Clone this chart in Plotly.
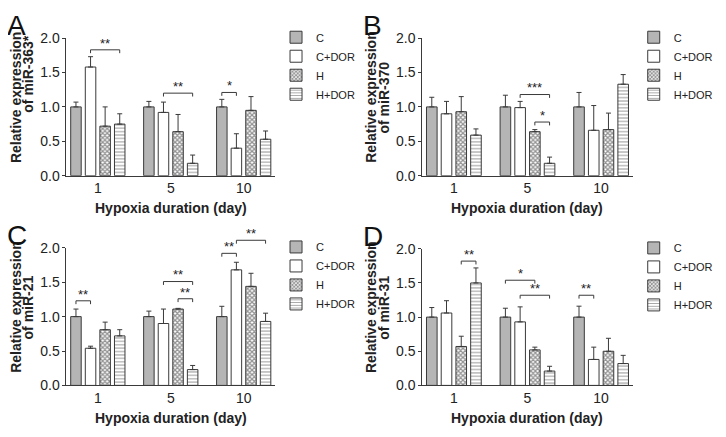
import plotly.graph_objects as go

OFF = 8                          # default page margin around the plot div
W, H = 726 - 2 * OFF, 437 - 2 * OFF  # page (figure + margins) exactly fills the window

categories = ["1", "5", "10"]
series = ["C", "C+DOR", "H", "H+DOR"]
panel_letters = ["A", "B", "C", "D"]
mirna_labels = ["of miR-363*", "of miR-370", "of miR-21", "of miR-31"]
y_ticks = [0.0, 0.5, 1.0, 1.5, 2.0]

# mean values per panel, per series (days 1, 5, 10)
A_C = [1.00, 1.00, 1.00]
A_CDOR = [1.58, 0.92, 0.40]
A_H = [0.72, 0.64, 0.95]
A_HDOR = [0.75, 0.18, 0.53]
A_C_err = [0.07, 0.08, 0.11]
A_CDOR_err = [0.15, 0.15, 0.21]
A_H_err = [0.28, 0.25, 0.20]
A_HDOR_err = [0.15, 0.12, 0.12]

B_C = [1.00, 1.00, 1.00]
B_CDOR = [0.90, 0.99, 0.66]
B_H = [0.93, 0.64, 0.67]
B_HDOR = [0.59, 0.18, 1.33]
B_C_err = [0.14, 0.17, 0.21]
B_CDOR_err = [0.18, 0.09, 0.36]
B_H_err = [0.22, 0.03, 0.24]
B_HDOR_err = [0.09, 0.09, 0.14]

C_C = [1.00, 1.00, 1.00]
C_CDOR = [0.54, 0.90, 1.68]
C_H = [0.81, 1.11, 1.44]
C_HDOR = [0.72, 0.23, 0.93]
C_C_err = [0.11, 0.08, 0.15]
C_CDOR_err = [0.03, 0.21, 0.11]
C_H_err = [0.11, 0.01, 0.19]
C_HDOR_err = [0.09, 0.06, 0.12]

D_C = [1.00, 1.00, 1.00]
D_CDOR = [1.06, 0.93, 0.38]
D_H = [0.57, 0.52, 0.50]
D_HDOR = [1.50, 0.21, 0.32]
D_C_err = [0.14, 0.13, 0.16]
D_CDOR_err = [0.18, 0.22, 0.18]
D_H_err = [0.15, 0.04, 0.19]
D_HDOR_err = [0.22, 0.07, 0.12]

# significance brackets: (day index, bar i, bar j, height, label)
A_sig = [(0, 1, 3, 1.83, "**"), (1, 1, 3, 1.20, "**"), (2, 0, 1, 1.21, "*")]
B_sig = [(1, 1, 3, 1.18, "***"), (1, 2, 3, 0.78, "*")]
C_sig = [(0, 0, 1, 1.23, "**"), (1, 1, 3, 1.51, "**"), (1, 2, 3, 1.26, "**"),
         (2, 0, 1, 1.92, "**"), (2, 1, 3, 2.11, "**")]
D_sig = [(0, 2, 3, 1.82, "**"), (1, 0, 2, 1.54, "*"), (1, 1, 3, 1.32, "**"),
         (2, 0, 1, 1.32, "**")]

panels = [
    ([A_C, A_CDOR, A_H, A_HDOR], [A_C_err, A_CDOR_err, A_H_err, A_HDOR_err], A_sig),
    ([B_C, B_CDOR, B_H, B_HDOR], [B_C_err, B_CDOR_err, B_H_err, B_HDOR_err], B_sig),
    ([C_C, C_CDOR, C_H, C_HDOR], [C_C_err, C_CDOR_err, C_H_err, C_HDOR_err], C_sig),
    ([D_C, D_CDOR, D_H, D_HDOR], [D_C_err, D_CDOR_err, D_H_err, D_HDOR_err], D_sig),
]

# ---- layout (screen pixels) ----
plot_px = [(68, 282, 31, 174), (433, 649, 31, 174), (68, 282, 249, 392), (433, 649, 250, 392)]
FONT = "Liberation Sans, Arial, sans-serif"
EDGE = "#3a3a3a"
TXT = "#222222"
BARGAP = 0.2
XR = [-0.43, 2.43]
YR = [0.0, 2.0]

styles = [
    dict(color="#b5b5b5"),
    dict(color="white"),
    dict(color="white", pattern=dict(shape="x", fgcolor="#2a2a2a", bgcolor="white", size=3.2, solidity=0.65)),
    dict(color="white", pattern=dict(shape="-", fgcolor="#333333", bgcolor="white", size=3.4, solidity=0.3)),
]

fig = go.Figure()
layout = dict(width=W, height=H, margin=dict(l=0, r=0, t=0, b=0),
              paper_bgcolor="white", plot_bgcolor="white", barmode="group",
              bargap=BARGAP, bargroupgap=0.28, font=dict(family=FONT, color=TXT))
shapes, annotations = [], []


def px2x(p):
    return (p - OFF) / W


def px2y(p):
    return 1 - (p - OFF) / H


def note(xp, yp, text, size, angle=0, xanchor="center", yanchor="middle", color=TXT):
    return dict(x=px2x(xp), y=px2y(yp), xref="paper", yref="paper", text=text,
                showarrow=False, textangle=angle, xanchor=xanchor, yanchor=yanchor,
                font=dict(size=size, color=color, family=FONT))


for k, (means, errs, sig) in enumerate(panels):
    x0, x1, y0, y1 = plot_px[k]
    sfx = "" if k == 0 else str(k + 1)
    xa, ya = "x" + sfx, "y" + sfx
    leg = "legend" + sfx
    for s, name in enumerate(series):
        fig.add_trace(go.Bar(
            x=categories, y=means[s], name=name, xaxis=xa, yaxis=ya, legend=leg,
            marker=dict(line=dict(color=EDGE, width=1), **styles[s]),
            error_y=dict(type="data", symmetric=False, array=errs[s],
                         arrayminus=[0] * len(errs[s]), color=EDGE, thickness=1, width=2.5),
        ))
    layout["xaxis" + sfx] = dict(domain=[px2x(x0), px2x(x1)], anchor=ya, range=XR,
                                 type="category", showline=True, linecolor=EDGE, linewidth=1,
                                 ticks="", tickfont=dict(size=14, color=TXT),
                                 showgrid=False, zeroline=False)
    layout["yaxis" + sfx] = dict(domain=[px2y(y1), px2y(y0)], anchor=xa, range=YR,
                                 tickvals=y_ticks, ticktext=[f"{v:.1f}" for v in y_ticks],
                                 showline=True, linecolor=EDGE, linewidth=1, ticks="outside",
                                 ticklen=3, tickcolor=EDGE, tickfont=dict(size=14, color=TXT),
                                 showgrid=False, zeroline=False)
    layout[leg] = dict(x=px2x(x1 + 1), y=px2y(y0 - 16), xanchor="left", yanchor="top",
                       font=dict(size=11, color=TXT), bgcolor="rgba(0,0,0,0)",
                       itemclick=False, tracegroupgap=0)

    # data -> pixel mapping for brackets
    slot = (1 - BARGAP) / len(series)

    def xdata2px(v):
        return x0 + (v - XR[0]) / (XR[1] - XR[0]) * (x1 - x0)

    def ydata2px(v):
        return y1 - (v - YR[0]) / (YR[1] - YR[0]) * (y1 - y0)

    for (g, i, j, h, lab) in sig:
        pi = xdata2px(g + (i - 1.5) * slot)
        pj = xdata2px(g + (j - 1.5) * slot)
        xi, xj = px2x(pi), px2x(pj)
        yt = px2y(ydata2px(h))
        yb = px2y(ydata2px(h) + 3.5)
        shapes.append(dict(type="path", xref="paper", yref="paper",
                           path=f"M{xi},{yb} L{xi},{yt} L{xj},{yt} L{xj},{yb}",
                           line=dict(color=EDGE, width=1)))
        annotations.append(note((pi + pj) / 2, ydata2px(h) + 3, lab, 13, yanchor="bottom"))

    # titles
    annotations.append(note((x0 + x1) / 2, y1 + 34, "<b>Hypoxia duration (day)</b>", 14))
    cy = (y0 + y1) / 2 - 10
    annotations.append(note(x0 - 52, cy, "<b>Relative expression</b>", 14, angle=-90))
    cy2 = cy - 25 if k == 0 else cy
    annotations.append(note(x0 - 39, cy2, f"<b>{mirna_labels[k]}</b>", 14, angle=-90))
    annotations.append(note(x0 - 51, y0 - 13, panel_letters[k], 28, color="#111111"))

layout["shapes"] = shapes
layout["annotations"] = annotations
fig.update_layout(**layout)
fig.write_html("out.html")
